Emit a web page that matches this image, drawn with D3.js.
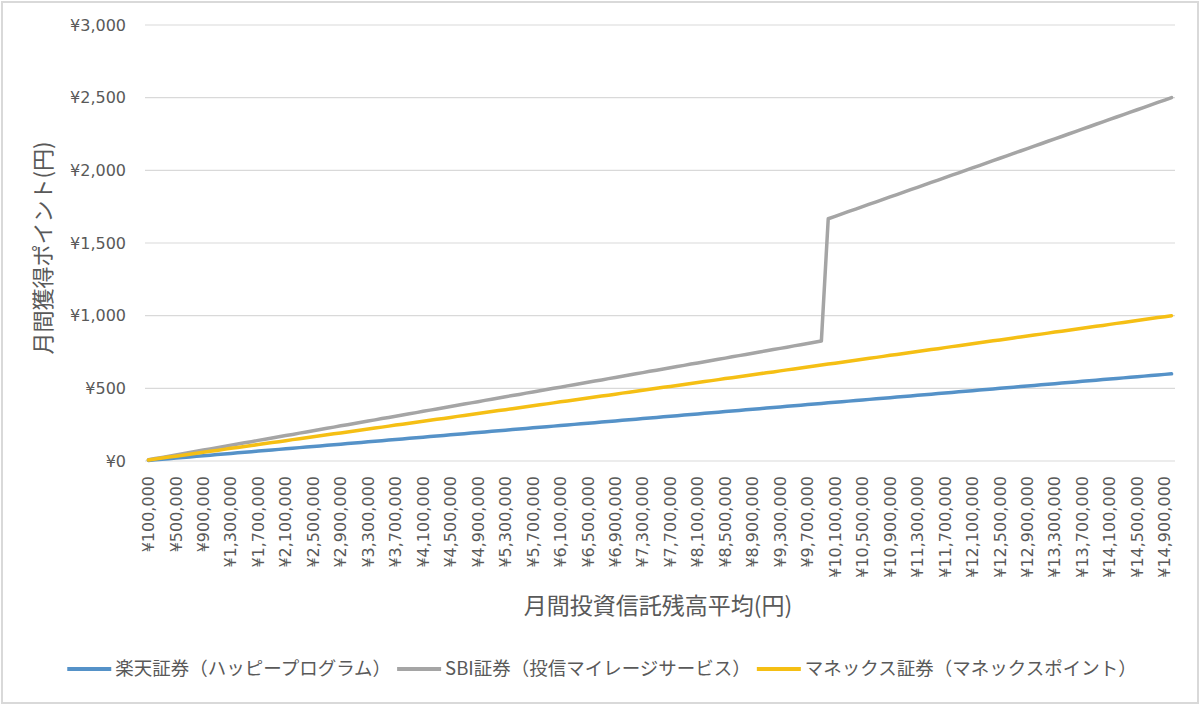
<!DOCTYPE html>
<html lang="ja">
<head>
  <meta charset="UTF-8">
  <title>月間獲得ポイント比較</title>
  <style>
    body {
      margin: 0;
      padding: 0;
      background: #fff;
      overflow: hidden;
    }
    svg { display: block; }
    .tick-label {
      font-family: 'DejaVu Sans', sans-serif;
      font-size: 16px;
      fill: #595959;
    }
    .axis-title, .legend-text {
      font-family: 'Noto Sans CJK JP', sans-serif;
      fill: #595959;
    }
    .grid {
      stroke: #d9d9d9;
      stroke-width: 1.2px;
    }
    .series {
      fill: none;
      stroke-width: 3.5px;
      stroke-linejoin: round;
      stroke-linecap: round;
    }
  </style>
</head>
<body>
  <div id="chart"></div>

  <script src="https://d3js.org/d3.v7.min.js"></script>
  <script>
    // カテゴリ：月間投資信託残高平均（10万円刻み）
    const categories = d3.range(100000, 15000001, 100000);

    // 楽天証券（ハッピープログラム）
    const rakuten = [
      4,8,12,16,20,24,28,32,36,40,44,48,52,56,60,
      64,68,72,76,80,84,88,92,96,100,104,108,112,116,120,
      124,128,132,136,140,144,148,152,156,160,164,168,172,176,180,
      184,188,192,196,200,204,208,212,216,220,224,228,232,236,240,
      244,248,252,256,260,264,268,272,276,280,284,288,292,296,300,
      304,308,312,316,320,324,328,332,336,340,344,348,352,356,360,
      364,368,372,376,380,384,388,392,396,400,404,408,412,416,420,
      424,428,432,436,440,444,448,452,456,460,464,468,472,476,480,
      484,488,492,496,500,504,508,512,516,520,524,528,532,536,540,
      544,548,552,556,560,564,568,572,576,580,584,588,592,596,600
    ];

    // SBI証券（投信マイレージサービス）
    const sbi = [
      8,17,25,33,42,50,58,67,75,83,92,100,
      108,117,125,133,142,150,158,167,175,183,192,200,
      208,217,225,233,242,250,258,267,275,283,292,300,
      308,317,325,333,342,350,358,367,375,383,392,400,
      408,417,425,433,442,450,458,467,475,483,492,500,
      508,517,525,533,542,550,558,567,575,583,592,600,
      608,617,625,633,642,650,658,667,675,683,692,700,
      708,717,725,733,742,750,758,767,775,783,792,800,
      808,817,825,
      1667,1683,1700,1717,1733,1750,
      1767,1783,1800,1817,1833,1850,
      1867,1883,1900,1917,1933,1950,
      1967,1983,2000,2017,2033,2050,
      2067,2083,2100,2117,2133,2150,
      2167,2183,2200,2217,2233,2250,
      2267,2283,2300,2317,2333,2350,
      2367,2383,2400,2417,2433,2450,
      2467,2483,2500
    ];

    // マネックス証券（マネックスポイント）
    const monex = [
      7,13,20,27,33,40,47,53,60,67,73,80,87,93,100,
      107,113,120,127,133,140,147,153,160,167,173,180,187,193,200,
      207,213,220,227,233,240,247,253,260,267,273,280,287,293,300,
      307,313,320,327,333,340,347,353,360,367,373,380,387,393,400,
      407,413,420,427,433,440,447,453,460,467,473,480,487,493,500,
      507,513,520,527,533,540,547,553,560,567,573,580,587,593,600,
      607,613,620,627,633,640,647,653,660,667,673,680,687,693,700,
      707,713,720,727,733,740,747,753,760,767,773,780,787,793,800,
      807,813,820,827,833,840,847,853,860,867,873,880,887,893,900,
      907,913,920,927,933,940,947,953,960,967,973,980,987,993,1000
    ];

    const seriesNames = [
      '楽天証券（ハッピープログラム）',
      'SBI証券（投信マイレージサービス）',
      'マネックス証券（マネックスポイント）'
    ];
    const seriesColors = ['#5592c8', '#a5a5a5', '#f5bf14'];
    const yTicks = [0, 500, 1000, 1500, 2000, 2500, 3000];

    const W = 1200, H = 705;
    const plot = { left: 145, right: 1175, top: 25, bottom: 461 };

    const svg = d3.select('#chart').append('svg')
      .attr('width', W)
      .attr('height', H);

    // 外枠
    svg.append('rect')
      .attr('x', 2).attr('y', 2)
      .attr('width', W - 4).attr('height', H - 4)
      .attr('fill', '#fff')
      .attr('stroke', '#d9d9d9')
      .attr('stroke-width', 2);

    const x = d3.scaleBand()
      .domain(categories)
      .range([plot.left, plot.right])
      .padding(0);
    const cx = v => x(v) + x.bandwidth() / 2;

    const y = d3.scaleLinear()
      .domain([0, 3000])
      .range([plot.bottom, plot.top]);

    const yen = v => '¥' + d3.format(',')(v);

    // 目盛線
    svg.append('g').selectAll('line')
      .data(yTicks)
      .join('line')
      .attr('class', 'grid')
      .attr('x1', plot.left).attr('x2', plot.right)
      .attr('y1', d => y(d)).attr('y2', d => y(d));

    // Y軸ラベル
    svg.append('g').selectAll('text')
      .data(yTicks)
      .join('text')
      .attr('class', 'tick-label')
      .attr('x', 126)
      .attr('y', d => y(d))
      .attr('dy', '0.35em')
      .attr('text-anchor', 'end')
      .text(yen);

    // X軸ラベル（4つおき）
    svg.append('g').selectAll('text')
      .data(categories.filter((d, i) => i % 4 === 0))
      .join('text')
      .attr('class', 'tick-label')
      .attr('transform', d => `translate(${cx(d)},476) rotate(-90)`)
      .attr('dy', '0.35em')
      .attr('text-anchor', 'end')
      .text(yen);

    // 系列
    const line = d3.line()
      .x((d, i) => cx(categories[i]))
      .y(d => y(d));

    [rakuten, sbi, monex].forEach((vals, k) => {
      svg.append('path')
        .datum(vals)
        .attr('class', 'series')
        .attr('stroke', seriesColors[k])
        .attr('d', line);
    });

    // 軸タイトル
    svg.append('text')
      .attr('class', 'axis-title')
      .attr('transform', 'translate(43,248) rotate(-90)')
      .attr('text-anchor', 'middle')
      .attr('dy', '0.35em')
      .style('font-size', '22px')
      .text('月間獲得ポイント(円)');

    svg.append('text')
      .attr('class', 'axis-title')
      .attr('x', 658)
      .attr('y', 606)
      .attr('text-anchor', 'middle')
      .attr('dy', '0.35em')
      .style('font-size', '23px')
      .text('月間投資信託残高平均(円)');

    // 凡例
    const legend = svg.append('g');
    const swatchW = 44, gapIn = 4, gapOut = 6, legendY = 669;
    let lx = 0;
    seriesNames.forEach((name, k) => {
      const item = legend.append('g').attr('transform', `translate(${lx},0)`);
      item.append('line')
        .attr('x1', 0).attr('x2', swatchW)
        .attr('y1', legendY).attr('y2', legendY)
        .attr('stroke', seriesColors[k])
        .attr('stroke-width', 4);
      const t = item.append('text')
        .attr('class', 'legend-text')
        .attr('x', swatchW + gapIn)
        .attr('y', legendY)
        .attr('dy', '0.35em')
        .style('font-size', '18.5px')
        .text(name);
      lx += swatchW + gapIn + t.node().getComputedTextLength() + gapOut;
    });
    const legendW = lx - gapOut;
    legend.attr('transform', `translate(${602 - legendW / 2},0)`);
  </script>
</body>
</html>
